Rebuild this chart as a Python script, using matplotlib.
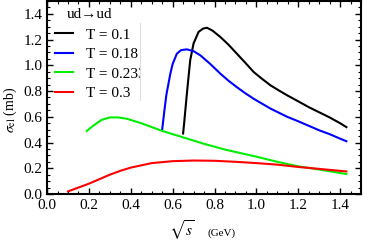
import matplotlib
matplotlib.use("Agg")
import matplotlib.pyplot as plt
from matplotlib.ticker import MultipleLocator
from matplotlib.lines import Line2D
from matplotlib.transforms import Bbox

plt.rcParams['font.family'] = ['Liberation Serif', 'DejaVu Serif']
plt.rcParams['mathtext.fontset'] = 'stix'

# sqrt(s) in GeV, sigma_el in mb
x_t01 = [0.65, 0.655, 0.668, 0.684, 0.70, 0.724, 0.745, 0.764, 0.79, 0.828, 0.867, 0.907,
         0.947, 0.987, 1.027, 1.067, 1.107, 1.147, 1.2, 1.25, 1.3, 1.35, 1.4, 1.43]
y_t01 = [0.47, 0.55, 0.78, 1.04, 1.17, 1.26, 1.285, 1.292, 1.27, 1.22, 1.16, 1.09,
         1.02, 0.948, 0.895, 0.845, 0.805, 0.767, 0.72, 0.675, 0.635, 0.595, 0.55, 0.52]

x_t018 = [0.55, 0.56, 0.57, 0.589, 0.60, 0.62, 0.64, 0.668, 0.70, 0.732, 0.78, 0.828,
          0.867, 0.907, 0.947, 0.987, 1.067, 1.147, 1.2, 1.25, 1.3, 1.35, 1.4, 1.43]
y_t018 = [0.50, 0.64, 0.77, 0.935, 1.01, 1.09, 1.118, 1.124, 1.11, 1.078, 1.01, 0.935,
          0.88, 0.83, 0.783, 0.74, 0.664, 0.60, 0.565, 0.53, 0.495, 0.465, 0.43, 0.41]

x_t0233 = [0.19, 0.22, 0.26, 0.30, 0.34, 0.38, 0.45, 0.55, 0.65, 0.75, 0.85, 1.0,
           1.1, 1.2, 1.3, 1.43]
y_t0233 = [0.49, 0.53, 0.575, 0.595, 0.595, 0.585, 0.55, 0.49, 0.44, 0.39, 0.345, 0.29,
           0.25, 0.215, 0.19, 0.155]

x_t03 = [0.10, 0.15, 0.2, 0.25, 0.3, 0.35, 0.4, 0.5, 0.6, 0.7, 0.8, 0.9, 1.0,
         1.1, 1.2, 1.3, 1.43]
y_t03 = [0.02, 0.05, 0.08, 0.115, 0.15, 0.18, 0.205, 0.24, 0.255, 0.26, 0.258, 0.25, 0.24,
         0.228, 0.21, 0.195, 0.175]

labels = ['T = 0.1', 'T = 0.18', 'T = 0.233', 'T = 0.3']
colors = ['black', 'blue', '#00ee00', 'red']

fig = plt.figure(figsize=(3.92, 2.44), dpi=100)
ax = fig.add_axes([0.12, 0.205, 0.801, 0.791])

series = [(x_t01, y_t01), (x_t018, y_t018), (x_t0233, y_t0233), (x_t03, y_t03)]
for (xs, ys), lab, c in zip(series, labels, colors):
    ax.plot(xs, ys, color=c, lw=1.5, label=lab)

ax.set_xlim(0, 1.5)
ax.set_ylim(0, 1.5)
ax.xaxis.set_major_locator(MultipleLocator(0.2))
ax.xaxis.set_minor_locator(MultipleLocator(0.05))
ax.yaxis.set_major_locator(MultipleLocator(0.2))
ax.yaxis.set_minor_locator(MultipleLocator(0.05))
ax.xaxis.set_major_formatter(lambda v, p: f'{v:.1f}')
ax.yaxis.set_major_formatter(lambda v, p: f'{v:.1f}')
ax.tick_params(which='both', direction='in', top=True, right=True, labelsize=11)
ax.tick_params(which='major', length=4, width=1)
ax.tick_params(which='minor', length=2, width=0.8)
for s in ax.spines.values():
    s.set_linewidth(1.5)

leg = ax.legend(loc='upper left', frameon=False, fontsize=11,
                handlelength=1.2, handletextpad=0.8, labelspacing=0.38,
                borderpad=0, borderaxespad=0,
                bbox_to_anchor=((55 - 47) / 314, 1 - 27 / 193))
fig.text(67 / 392, 1 - 15 / 244, 'ud\u2192ud', ha='left', va='center', fontsize=11)

# clip legend texts like the inset box in the reference
clip = Bbox.from_extents(0, 0, 140, 244)
for t in leg.get_texts():
    t.set_clip_box(clip)
    t.set_clip_on(True)
fig.add_artist(Line2D([140 / 392, 140 / 392], [1 - 100 / 244, 1 - 23 / 244],
                      color='#dddddd', lw=0.8))

fig.text(10 / 392, 1 - 110 / 244, r'$\sigma_{\rm el}$ (mb)', rotation=90,
         ha='center', va='center', fontsize=10)
fig.text(182 / 392, 1 - 230 / 244, r'$\sqrt{s}$', ha='center', va='center', fontsize=11)
fig.text(222 / 392, 1 - 233 / 244, '(GeV)', ha='center', va='center', fontsize=8)

fig.savefig('out.png', dpi=100)
